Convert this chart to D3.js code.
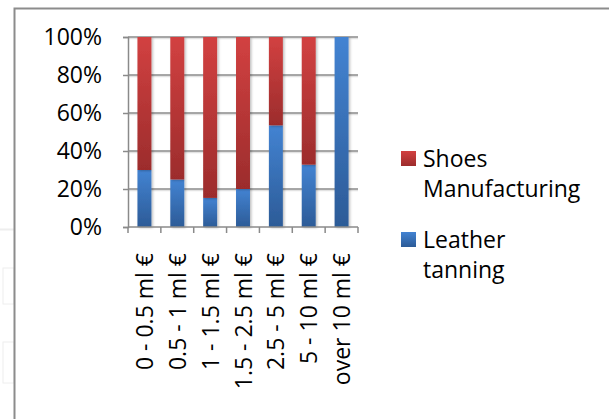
<!DOCTYPE html>
<html>
<head>
<meta charset="utf-8">
<script src="https://cdn.jsdelivr.net/npm/d3@7"></script>
<style>
  html, body { margin: 0; padding: 0; background: #fff; }
  svg { display: block; }
  text { font-family: "Open Sans", "Noto Sans", sans-serif; fill: #000; }
</style>
</head>
<body>
<svg id="chart" width="609" height="419"></svg>
<script>
// Share of firms by turnover class, per sector
const categories = ["0 - 0.5 ml €", "0.5 - 1 ml €", "1 - 1.5 ml €", "1.5 - 2.5 ml €", "2.5 - 5 ml €", "5 - 10 ml €", "over 10 ml €"];
const leatherTanning = [0.30, 0.25, 0.153, 0.20, 0.535, 0.328, 1.00];
const shoesManufacturing = [0.70, 0.75, 0.847, 0.80, 0.465, 0.672, 0.00];
const seriesNames = ["Leather tanning", "Shoes Manufacturing"];
const yTicks = [0, 0.2, 0.4, 0.6, 0.8, 1.0];

const FONT = 23;
const svg = d3.select("#chart");
const defs = svg.append("defs");

// vertical gradients for the two series
function gradient(id, top, bottom) {
  const g = defs.append("linearGradient").attr("id", id)
    .attr("x1", 0).attr("y1", 0).attr("x2", 0).attr("y2", 1);
  g.append("stop").attr("offset", "0%").attr("stop-color", top);
  g.append("stop").attr("offset", "100%").attr("stop-color", bottom);
}
gradient("gRed", "#d24141", "#9c2c2c");
gradient("gBlue", "#4383d2", "#2c5b97");
const fills = { "Leather tanning": "url(#gBlue)", "Shoes Manufacturing": "url(#gRed)" };

const shadow = defs.append("filter").attr("id", "shadow")
  .attr("x", "-50%").attr("y", "-10%").attr("width", "200%").attr("height", "120%");
shadow.append("feDropShadow").attr("dx", 1.5).attr("dy", 1).attr("stdDeviation", 1.2)
  .attr("flood-color", "#000").attr("flood-opacity", 0.25);

// faint panels behind the chart frame
[[0, 229, 14, 1], [3, 268, 11, 36], [3, 342, 11, 41]].forEach(([x, y, w, h]) => {
  svg.append("rect").attr("x", x).attr("y", y).attr("width", w).attr("height", h)
    .attr("fill", "none").attr("stroke", "#eeeeee").attr("stroke-width", 1);
});

// chart frame (left and top edges)
svg.append("path").attr("d", "M14.5,419 V8.5 H609")
  .attr("fill", "none").attr("stroke", "#8c8c8c").attr("stroke-width", 2);

const plot = { left: 128, right: 358, top: 37, bottom: 227 };

const x = d3.scaleBand().domain(categories).range([plot.left, plot.right]).paddingInner(0.575).paddingOuter(0.2875);
const xEdges = d3.scaleLinear().domain([0, categories.length]).range([plot.left, plot.right]);
const y = d3.scaleLinear().domain([0, 1]).range([plot.bottom, plot.top]);

// gridlines with a light shadow
const grid = svg.append("g");
grid.selectAll("line.sh").data(yTicks.slice(1)).join("line").attr("class", "sh")
  .attr("x1", plot.left).attr("x2", plot.right)
  .attr("y1", d => y(d) + 1.5).attr("y2", d => y(d) + 1.5)
  .attr("stroke", "#e2e2e2").attr("stroke-width", 1.5);
grid.selectAll("line.gl").data(yTicks.slice(1)).join("line").attr("class", "gl")
  .attr("x1", plot.left).attr("x2", plot.right)
  .attr("y1", d => y(d)).attr("y2", d => y(d))
  .attr("stroke", "#8a8a8a").attr("stroke-width", 1.5);

// stacked bars
const rows = categories.map((c, i) => ({ cat: c, "Leather tanning": leatherTanning[i], "Shoes Manufacturing": shoesManufacturing[i] }));
const stacked = d3.stack().keys(seriesNames)(rows);

svg.append("g").selectAll("g").data(stacked).join("g")
  .attr("fill", d => fills[d.key])
  .selectAll("rect").data(d => d.filter(s => s[1] - s[0] > 0)).join("rect")
  .attr("x", d => x(d.data.cat))
  .attr("width", x.bandwidth())
  .attr("y", d => y(d[1]))
  .attr("height", d => y(d[0]) - y(d[1]))
  .attr("filter", "url(#shadow)");

// y axis
const yAxis = d3.axisLeft(y).tickValues(yTicks).tickFormat(d3.format(".0%")).tickSize(5).tickPadding(21);
const yg = svg.append("g").attr("transform", `translate(${plot.left},0)`).call(yAxis);
yg.select(".domain").attr("stroke", "#8a8a8a").attr("stroke-width", 1.5);
yg.selectAll(".tick line").attr("stroke", "#8a8a8a").attr("stroke-width", 1.5);
yg.selectAll(".tick text").attr("font-size", FONT).attr("font-family", "Open Sans").attr("fill", "#000");

// x axis: line, ticks at category boundaries, rotated labels
const xg = svg.append("g");
xg.append("line").attr("x1", plot.left).attr("x2", plot.right)
  .attr("y1", plot.bottom).attr("y2", plot.bottom)
  .attr("stroke", "#8a8a8a").attr("stroke-width", 1.5);
xg.selectAll("line.t").data(d3.range(categories.length + 1)).join("line").attr("class", "t")
  .attr("x1", d => xEdges(d)).attr("x2", d => xEdges(d))
  .attr("y1", plot.bottom).attr("y2", plot.bottom + 6)
  .attr("stroke", "#8a8a8a").attr("stroke-width", 1.5);
xg.selectAll("text").data(categories).join("text")
  .attr("transform", d => `translate(${x(d) + x.bandwidth() / 2 + 8.5},253) rotate(-90)`)
  .attr("text-anchor", "end")
  .attr("font-size", FONT)
  .text(d => d);

// legend
const legend = svg.append("g");
const legendItems = [
  { name: "Shoes Manufacturing", lines: ["Shoes", "Manufacturing"], fill: "url(#gRed)", y: 151 },
  { name: "Leather tanning", lines: ["Leather", "tanning"], fill: "url(#gBlue)", y: 232 }
];
legendItems.forEach(it => {
  legend.append("rect").attr("x", 401).attr("y", it.y).attr("width", 15).attr("height", 15).attr("fill", it.fill);
  it.lines.forEach((l, i) => {
    legend.append("text").attr("x", 423).attr("y", it.y + 16 + i * 30).attr("font-size", FONT).text(l);
  });
});
</script>
</body>
</html>
